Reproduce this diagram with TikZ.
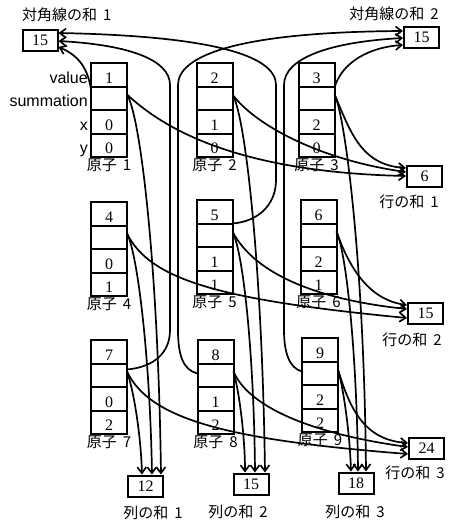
\documentclass[tikz,border=0pt]{standalone}
\usepackage{fontspec}
\setmainfont{Liberation Serif}
\newfontfamily\jpfont[WordSpace=1.8]{Noto Sans CJK JP}
\newfontfamily\fieldfont{Liberation Sans}
\usetikzlibrary{arrows.meta, positioning, shapes.multipart}
\newcommand{\cell}[1]{\rule[-2.5pt]{0pt}{21.5pt}#1}

\begin{document}
\begin{tikzpicture}[
    x=1pt, y=-1pt,
    atom/.style={draw, line width=2pt, rectangle split, rectangle split parts=4, minimum width=36pt, inner xsep=0pt, inner ysep=0pt, outer sep=0pt, font=\fontsize{16}{19}\selectfont},
    sumbox/.style={draw, line width=2pt, minimum width=35pt, minimum height=21pt, inner sep=0pt, font=\fontsize{16}{19}\selectfont},
    atomlbl/.style={font=\jpfont\fontsize{15}{18}\selectfont, inner sep=0pt},
    sumlbl/.style={font=\jpfont\fontsize{15}{18}\selectfont, inner sep=0pt},
    fieldlbl/.style={font=\fieldfont\fontsize{16}{19}\selectfont, inner sep=0pt, anchor=base east, xshift=-3pt},
    arrow/.style={-{Straight Barb[length=6pt, width=9pt]}, line width=1.7pt}
  ]
  \useasboundingbox (0, 0) rectangle (450, 522);

  % Atoms, row 1
  \node[atom, anchor=north] (a1) at (109, 63) {\cell{1}\nodepart{two}\cell{}\nodepart{three}\cell{0}\nodepart{four}\cell{0}};
  \node[atom, anchor=north] (a2) at (214.5, 63) {\cell{2}\nodepart{two}\cell{}\nodepart{three}\cell{1}\nodepart{four}\cell{0}};
  \node[atom, anchor=north] (a3) at (316.5, 63) {\cell{3}\nodepart{two}\cell{}\nodepart{three}\cell{2}\nodepart{four}\cell{0}};

  % Atoms, row 2
  \node[atom, anchor=north] (a4) at (109, 202) {\cell{4}\nodepart{two}\cell{}\nodepart{three}\cell{0}\nodepart{four}\cell{1}};
  \node[atom, anchor=north] (a5) at (214.5, 200) {\cell{5}\nodepart{two}\cell{}\nodepart{three}\cell{1}\nodepart{four}\cell{1}};
  \node[atom, anchor=north] (a6) at (318.5, 200) {\cell{6}\nodepart{two}\cell{}\nodepart{three}\cell{2}\nodepart{four}\cell{1}};

  % Atoms, row 3
  \node[atom, anchor=north] (a7) at (109, 340) {\cell{7}\nodepart{two}\cell{}\nodepart{three}\cell{0}\nodepart{four}\cell{2}};
  \node[atom, anchor=north] (a8) at (215.5, 340) {\cell{8}\nodepart{two}\cell{}\nodepart{three}\cell{1}\nodepart{four}\cell{2}};
  \node[atom, anchor=north] (a9) at (320, 338) {\cell{9}\nodepart{two}\cell{}\nodepart{three}\cell{2}\nodepart{four}\cell{2}};

  % Atom labels
  \node[atomlbl, below=1.5pt of a1] (a1l) {原子 1};
  \node[atomlbl, below=1.5pt of a2] (a2l) {原子 2};
  \node[atomlbl, below=1.5pt of a3] (a3l) {原子 3};
  \node[atomlbl, below=1.5pt of a4] (a4l) {原子 4};
  \node[atomlbl, below=1.5pt of a5] (a5l) {原子 5};
  \node[atomlbl, below=1.5pt of a6] (a6l) {原子 6};
  \node[atomlbl, below=1.5pt of a7] (a7l) {原子 7};
  \node[atomlbl, below=1.5pt of a8] (a8l) {原子 8};
  \node[atomlbl, below=1.5pt of a9] (a9l) {原子 9};

  % Field names
  \node[fieldlbl] (fvalue) at (a1.west |- a1.text) {value};
  \node[fieldlbl] (fsum) at (a1.west |- a1.two) {summation};
  \node[fieldlbl] (fx) at (a1.west |- a1.three) {x};
  \node[fieldlbl] (fy) at (a1.west |- a1.four) {y};

  % Sum boxes
  \node[sumbox] (d1) at (40, 40) {15};
  \node[sumbox] (d2) at (421.5, 37.5) {15};
  \node[sumbox] (r1) at (424.5, 176) {6};
  \node[sumbox] (r2) at (425.5, 313) {15};
  \node[sumbox] (r3) at (426.5, 448) {24};
  \node[sumbox] (c1) at (145.5, 486) {12};
  \node[sumbox] (c2) at (251, 484) {15};
  \node[sumbox] (c3) at (356, 483) {18};

  \node[sumlbl, anchor=west] (d1l) at (22, 15) {対角線の和 1};
  \node[sumlbl, anchor=east] (d2l) at (439, 14) {対角線の和 2};
  \node[sumlbl, anchor=east] (r1l) at (439, 202) {行の和 1};
  \node[sumlbl, anchor=east] (r2l) at (442, 340) {行の和 2};
  \node[sumlbl, anchor=east] (r3l) at (445, 473) {行の和 3};
  \node[sumlbl] (c1l) at (153, 513) {列の和 1};
  \node[sumlbl] (c2l) at (238, 512) {列の和 2};
  \node[sumlbl] (c3l) at (355, 512) {列の和 3};

  % Diagonal sums
  \draw[arrow] ([yshift=-3pt]a1.text split west) .. controls (88, 70) and (80, 56) .. ([yshift=-7pt]d1.east);
  \draw[arrow] (a5.text split east) .. controls (258, 221.5) and (276, 205) .. (276, 180) -- (276, 85) .. controls (276, 55) and (210, 36) .. ([yshift=7pt]d1.east);
  \draw[arrow] ([yshift=-6pt]a7.text split east) .. controls (155, 367) and (170, 352) .. (170, 330) -- (170, 85) .. controls (170, 60) and (130, 45) .. ([yshift=-1pt]d1.east);
  \draw[arrow] ([yshift=-1pt]a3.text split east) .. controls (342, 62) and (370, 47) .. ([yshift=-7.5pt]d2.west);
  \draw[arrow] ([yshift=-10pt]a8.text split west) .. controls (183, 370) and (178, 355) .. (178, 330) -- (178, 85) .. controls (178, 55) and (240, 32) .. ([yshift=6.5pt]d2.west);
  \draw[arrow] ([yshift=-10pt]a9.text split west) .. controls (289, 368) and (284, 352) .. (284, 330) -- (284, 85) .. controls (284, 58) and (330, 42) .. ([yshift=-0.5pt]d2.west);

  % Row sums
  \draw[arrow] ([yshift=-8pt]a1.text split east) .. controls (160, 125) and (230, 172) .. (r1.west);
  \draw[arrow] ([yshift=-8pt]a2.text split east) .. controls (255, 125) and (320, 160) .. ([yshift=4pt]r1.west);
  \draw[arrow] ([yshift=-8pt]a3.text split east) .. controls (350, 130) and (360, 165) .. ([yshift=8pt]r1.west);
  \draw[arrow] ([yshift=-8pt]a4.text split east) .. controls (150, 280) and (220, 300) .. ([yshift=-5pt]r2.west);
  \draw[arrow] ([yshift=-8pt]a5.text split east) .. controls (255, 275) and (320, 300) .. ([yshift=4pt]r2.west);
  \draw[arrow] ([yshift=-8pt]a6.text split east) .. controls (350, 270) and (370, 300) .. ([yshift=8pt]r2.west);
  \draw[arrow] ([yshift=-8pt]a7.text split east) .. controls (150, 420) and (230, 440) .. ([yshift=-6pt]r3.west);
  \draw[arrow] ([yshift=-8pt]a8.text split east) .. controls (250, 410) and (320, 435) .. ([yshift=1pt]r3.west);
  \draw[arrow] ([yshift=-8pt]a9.text split east) .. controls (350, 410) and (365, 440) .. ([yshift=5pt]r3.west);

  % Column sums
  \draw[arrow] ([yshift=-8pt]a1.text split east) .. controls (140, 115) and (158, 260) .. ([xshift=15.5pt]c1.north);
  \draw[arrow] ([yshift=-8pt]a4.text split east) .. controls (138, 255) and (150, 360) .. ([xshift=6.5pt]c1.north);
  \draw[arrow] ([yshift=-8pt]a7.text split east) .. controls (135, 395) and (141, 440) .. ([xshift=-3.5pt]c1.north);
  \draw[arrow] ([yshift=-8pt]a2.text split east) .. controls (245, 115) and (262, 260) .. ([xshift=14pt]c2.north);
  \draw[arrow] ([yshift=-8pt]a5.text split east) .. controls (244, 255) and (254, 360) .. ([xshift=4pt]c2.north);
  \draw[arrow] ([yshift=-8pt]a8.text split east) .. controls (240, 395) and (245, 440) .. ([xshift=-6pt]c2.north);
  \draw[arrow] ([yshift=-8pt]a3.text split east) .. controls (345, 115) and (364, 260) .. ([xshift=10pt]c3.north);
  \draw[arrow] ([yshift=-8pt]a6.text split east) .. controls (347, 255) and (357, 360) .. ([xshift=2pt]c3.north);
  \draw[arrow] ([yshift=-8pt]a9.text split east) .. controls (345, 395) and (350, 440) .. ([xshift=-5pt]c3.north);

\end{tikzpicture}
\end{document}
